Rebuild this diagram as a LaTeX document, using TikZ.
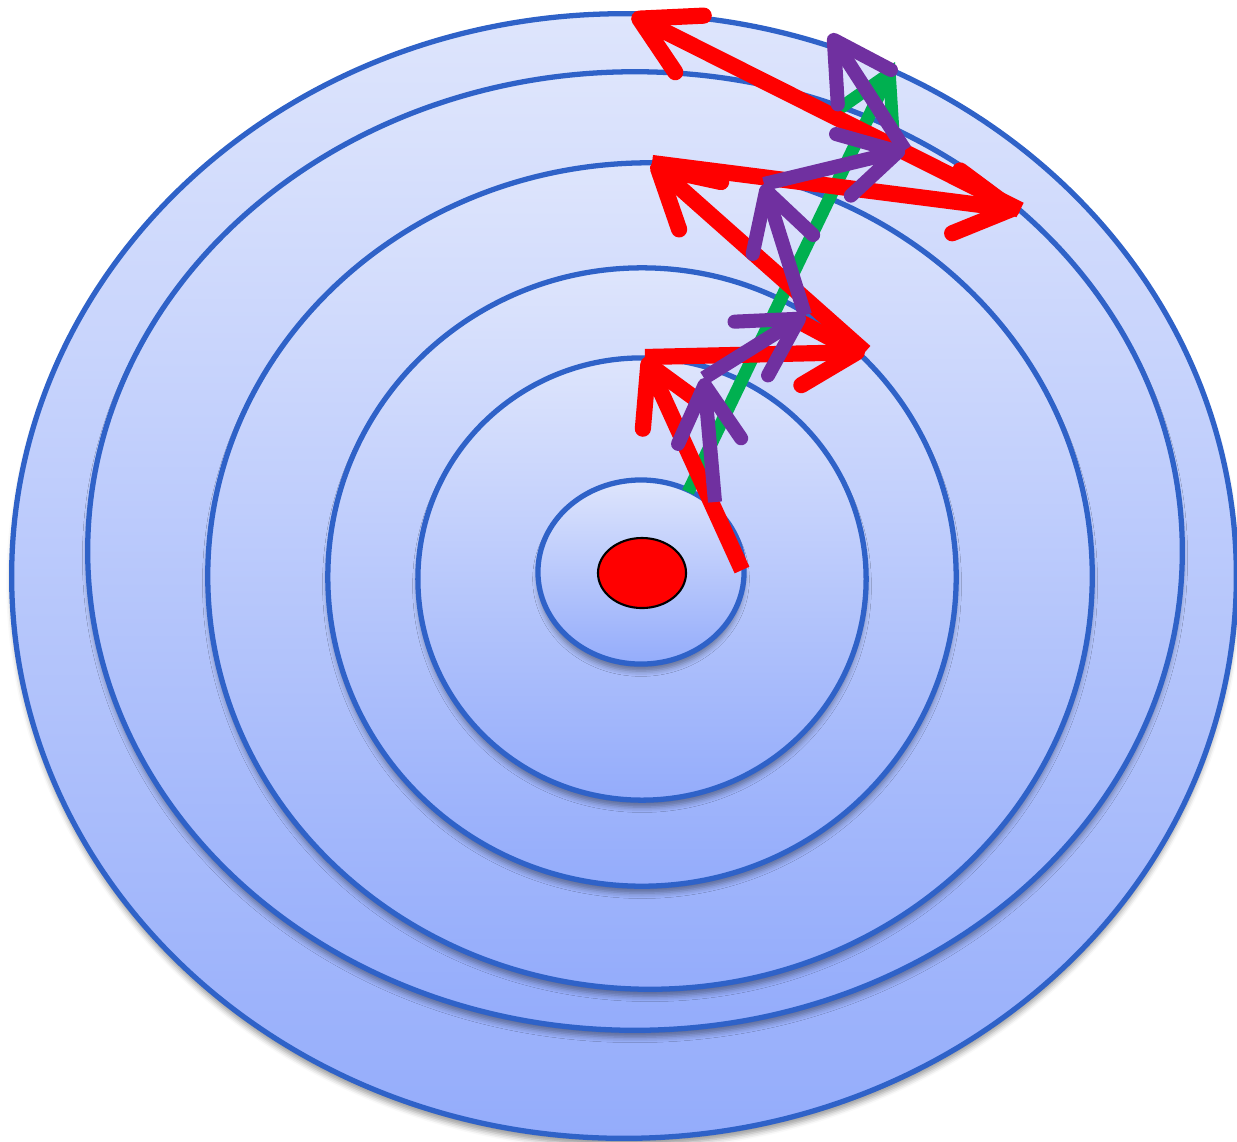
\documentclass[tikz,border=0pt]{standalone}
\usepackage{tikz}
\usetikzlibrary{arrows.meta,shadows.blur}
\definecolor{ringblue}{RGB}{47,98,200}
\definecolor{topblue}{RGB}{222,229,252}
\definecolor{botblue}{RGB}{148,172,251}
\definecolor{stepred}{RGB}{255,0,0}
\definecolor{steppurple}{RGB}{112,48,160}
\definecolor{stepgreen}{RGB}{0,176,80}

\begin{document}
\begin{tikzpicture}[x=0.01cm, y=0.01cm,
    ring/.style={draw=ringblue, line width=1.5pt, top color=topblue, bottom color=botblue,
        blur shadow={shadow xshift=0pt, shadow yshift=-2pt, shadow blur radius=1.5pt, shadow opacity=40}},
    redstep/.style={stepred, line width=4.6pt, -{Straight Barb[length=16pt,width=18pt,round]}},
    purplestep/.style={steppurple, line width=4pt, -{Straight Barb[length=16pt,width=18pt,round]}},
    greenstep/.style={stepgreen, line width=3.6pt, -{Straight Barb[length=16pt,width=18pt]}}]
    \useasboundingbox (0,0) rectangle (1237,-1141);

    % Anelli del bersaglio, dal piu' esterno al centro
    \draw[ring] (624,-576) ellipse [x radius=6.12cm, y radius=5.62cm];
    \draw[ring] (635,-551) ellipse [x radius=5.47cm, y radius=4.79cm];
    \draw[ring] (650,-576) ellipse [x radius=4.42cm, y radius=4.13cm];
    \draw[ring] (642,-577) ellipse [x radius=3.14cm, y radius=3.09cm];
    \draw[ring] (642,-579) ellipse [x radius=2.24cm, y radius=2.21cm];
    \draw[ring] (641,-572) ellipse [x radius=1.03cm, y radius=0.92cm];

    % Minimo (punto rosso)
    \draw[fill=stepred, draw=black, line width=0.6pt] (642,-573) ellipse [x radius=0.44cm, y radius=0.35cm];

    % Punti dei percorsi
    \coordinate (r0) at (742,-570);
    \coordinate (r1) at (645,-357);
    \coordinate (r2) at (865,-352);
    \coordinate (r3) at (652,-163);
    \coordinate (r4) at (1020,-210);
    \coordinate (r5) at (632,-15);
    \coordinate (p0) at (715,-502);
    \coordinate (p1) at (704,-378);
    \coordinate (p2) at (805,-315);
    \coordinate (p3) at (764,-184);
    \coordinate (p4) at (905,-150);
    \coordinate (p5) at (830,-34);
    \coordinate (g0) at (688,-492);
    \coordinate (g1) at (895,-62);

    % Passo verde
    \draw[greenstep] (g0) -- (g1);

    % Passi rossi
    \draw[redstep] (r0) -- (r1);
    \draw[redstep] (r1) -- (r2);
    \draw[redstep] (r2) -- (r3);
    \draw[redstep] (r3) -- (r4);
    \draw[redstep] (r4) -- (r5);

    % Passi viola
    \draw[purplestep] (p0) -- (p1);
    \draw[purplestep] (p1) -- (p2);
    \draw[purplestep] (p2) -- (p3);
    \draw[purplestep] (p3) -- (p4);
    \draw[purplestep] (p4) -- (p5);
\end{tikzpicture}
\end{document}
